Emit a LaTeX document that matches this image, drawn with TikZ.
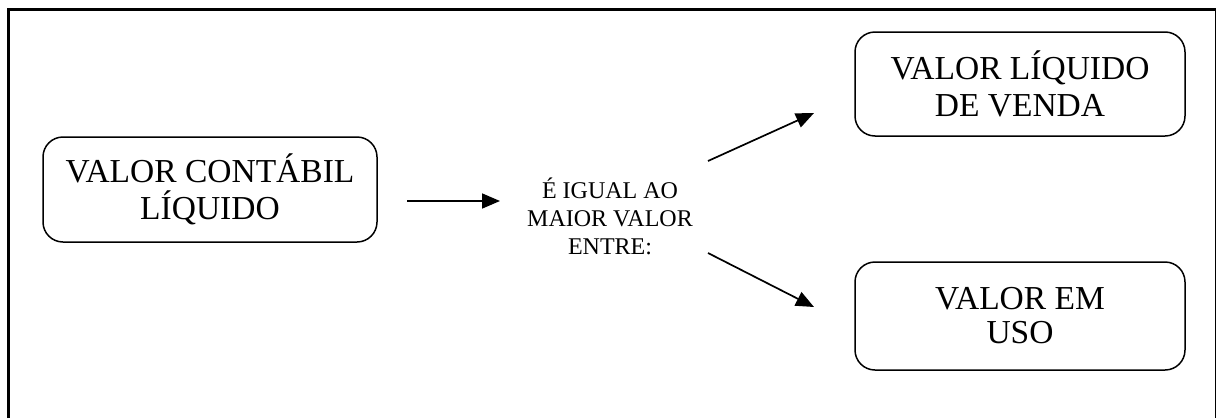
\documentclass[tikz,border=0pt]{standalone}
\usepackage{fontspec}
\setmainfont{Liberation Serif}
\usetikzlibrary{arrows.meta}
\tikzset{
  valbox/.style={draw, line width=1.5pt, rounded corners=20pt, align=center, inner sep=0pt,
    font=\fontsize{33.5}{36.5}\selectfont},
  midtext/.style={align=center, inner sep=0pt, font=\fontsize{24}{28}\selectfont},
  arr/.style={line width=1.7pt, -{Triangle[length=18pt,width=15pt]}},
  frame/.style={line width=3pt},
}
\begin{document}
\begin{tikzpicture}[x=1pt,y=-1pt]
\useasboundingbox (0,0) rectangle (1217,418);
\draw[frame] (8.3,418) -- (8.3,9) -- (1215.5,9);
\draw[line width=1.2pt] (1215.5,9) -- (1215.5,418);
\node[valbox, minimum width=334pt, minimum height=105pt] (val) at (210,189.5) {VALOR CONTÁBIL\\LÍQUIDO};
\node[valbox, minimum width=330pt, minimum height=104pt] (venda) at (1020,84) {VALOR LÍQUIDO\\DE VENDA};
\node[valbox, minimum width=330pt, minimum height=108pt, font=\fontsize{33.5}{34}\selectfont] (uso) at (1020,316) {VALOR EM\\USO};
\node[midtext] (mid) at (610,216) {É IGUAL AO\\MAIOR VALOR\\ENTRE:};
\coordinate (h1) at (407,201);
\coordinate (h2) at (500,201);
\coordinate (u1) at (708,161);
\coordinate (u2) at (814,113);
\coordinate (d1) at (708,253);
\coordinate (d2) at (814,307);
\draw[arr] (h1) -- (h2);
\draw[arr] (u1) -- (u2);
\draw[arr] (d1) -- (d2);
\end{tikzpicture}
\end{document}
